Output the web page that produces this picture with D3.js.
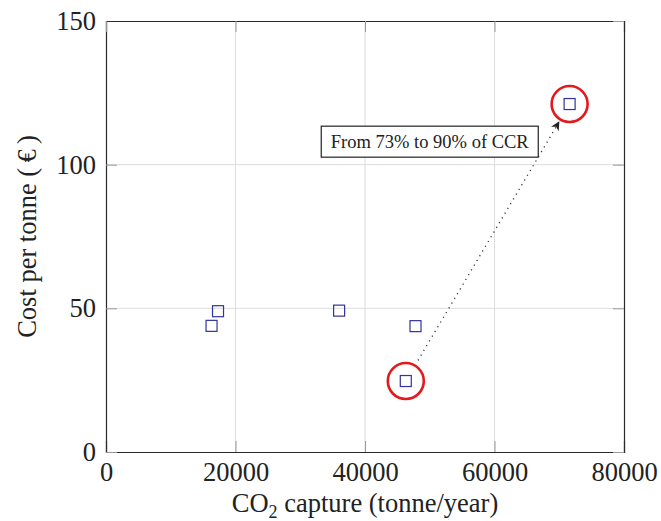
<!DOCTYPE html>
<html>
<head>
<meta charset="utf-8">
<script src="https://cdn.jsdelivr.net/npm/d3@7"></script>
<style>
  body { margin: 0; background: #fff; }
  svg text { font-family: "Liberation Serif", "Times New Roman", serif; fill: #222; }
</style>
</head>
<body>
<div id="chart"></div>
<script>
// data
const captureValues = [16300, 17300, 36000, 47800, 46300, 71600];
const costValues = [43.9, 49.0, 49.2, 43.8, 24.7, 121.1];
const highlighted = [4, 5];            // points circled in red
const xTicks = [0, 20000, 40000, 60000, 80000];
const yTicks = [0, 50, 100, 150];
const noteText = 'From 73% to 90% of CCR';
const notePos = [50000, 108];

const width = 661, height = 521;
const margin = { top: 21, right: 37, bottom: 69, left: 106 };

const svg = d3.select('#chart').append('svg')
  .attr('width', width)
  .attr('height', height);

const x = d3.scaleLinear().domain([0, 80000]).range([margin.left, width - margin.right]);
const y = d3.scaleLinear().domain([0, 150]).range([height - margin.bottom, margin.top]);

// grid
svg.append('g').selectAll('line')
  .data(xTicks.slice(1, -1))
  .join('line')
  .attr('x1', d => x(d)).attr('x2', d => x(d))
  .attr('y1', y(0)).attr('y2', y(150))
  .attr('stroke', '#dcdcdc').attr('stroke-width', 1);

svg.append('g').selectAll('line')
  .data(yTicks.slice(1, -1))
  .join('line')
  .attr('x1', x(0)).attr('x2', x(80000))
  .attr('y1', d => y(d)).attr('y2', d => y(d))
  .attr('stroke', '#dcdcdc').attr('stroke-width', 1);

// axes, ticks pointing inward on all four sides
const tickLen = 11;
const fmt = d3.format('d');

const xAxis = svg.append('g')
  .attr('transform', `translate(0,${y(0)})`)
  .call(d3.axisBottom(x).tickValues(xTicks).tickFormat(fmt).tickSize(-tickLen).tickPadding(10));
const yAxis = svg.append('g')
  .attr('transform', `translate(${x(0)},0)`)
  .call(d3.axisLeft(y).tickValues(yTicks).tickFormat(fmt).tickSize(-tickLen).tickPadding(10));
const xTop = svg.append('g')
  .attr('transform', `translate(0,${y(150)})`)
  .call(d3.axisTop(x).tickValues(xTicks).tickFormat('').tickSize(-tickLen));
const yRight = svg.append('g')
  .attr('transform', `translate(${x(80000)},0)`)
  .call(d3.axisRight(y).tickValues(yTicks).tickFormat('').tickSize(-tickLen));

[xAxis, yAxis, xTop, yRight].forEach(a => {
  a.select('.domain').attr('stroke', '#2a2a2a').attr('stroke-width', 1.2);
  a.selectAll('.tick line').attr('stroke', '#999');
  a.selectAll('.tick text')
    .attr('font-family', '"Liberation Serif", "Times New Roman", serif')
    .attr('font-size', 26.5)
    .attr('fill', '#222');
});

// axis labels
const xLabel = svg.append('text')
  .attr('x', (x(0) + x(80000)) / 2)
  .attr('y', 512)
  .attr('text-anchor', 'middle')
  .attr('font-size', 26.5);
xLabel.append('tspan').text('CO');
xLabel.append('tspan').attr('font-size', 18).attr('dy', 6).text('2');
xLabel.append('tspan').attr('dy', -6).text(' capture (tonne/year)');

svg.append('text')
  .attr('transform', `translate(36,${(y(0) + y(150)) / 2}) rotate(-90)`)
  .attr('text-anchor', 'middle')
  .attr('font-size', 26.5)
  .text('Cost per tonne (\u2009€\u2009)');

// arrow from the circled lower point to the circled upper point
const defs = svg.append('defs');
defs.append('marker')
  .attr('id', 'head')
  .attr('viewBox', '0 0 10 10')
  .attr('refX', 9).attr('refY', 5)
  .attr('markerWidth', 9).attr('markerHeight', 9)
  .attr('markerUnits', 'userSpaceOnUse')
  .attr('orient', 'auto')
  .append('path')
  .attr('d', 'M0,0 L10,5 L0,10 L3,5 Z')
  .attr('fill', '#222');

const [a, b] = highlighted;
const p1 = [x(captureValues[a]), y(costValues[a])];
const p2 = [x(captureValues[b]), y(costValues[b])];
const dx = p2[0] - p1[0], dy = p2[1] - p1[1];
const len = Math.hypot(dx, dy);
const ux = dx / len, uy = dy / len;

svg.append('line')
  .attr('x1', p1[0] + ux * 24).attr('y1', p1[1] + uy * 24)
  .attr('x2', p2[0] - ux * 21).attr('y2', p2[1] - uy * 21)
  .attr('stroke', '#333')
  .attr('stroke-width', 1.3)
  .attr('stroke-dasharray', '1.2 4.3')
  .attr('marker-end', 'url(#head)');

// points
svg.append('g').selectAll('rect')
  .data(captureValues.map((c, i) => [c, costValues[i]]))
  .join('rect')
  .attr('x', d => x(d[0]) - 5.5)
  .attr('y', d => y(d[1]) - 5.5)
  .attr('width', 11).attr('height', 11)
  .attr('fill', 'none')
  .attr('stroke', '#33339c')
  .attr('stroke-width', 1.2);

// red circles
svg.append('g').selectAll('circle')
  .data(highlighted)
  .join('circle')
  .attr('cx', i => x(captureValues[i]))
  .attr('cy', i => y(costValues[i]))
  .attr('r', 18)
  .attr('fill', 'none')
  .attr('stroke', '#e3191c')
  .attr('stroke-width', 2.6);

// annotation box
const note = svg.append('g')
  .attr('transform', `translate(${x(notePos[0])},${y(notePos[1])})`);
note.append('rect')
  .attr('x', -108.5).attr('y', -15.5)
  .attr('width', 217).attr('height', 31)
  .attr('fill', '#fff')
  .attr('stroke', '#222')
  .attr('stroke-width', 1.2);
note.append('text')
  .attr('text-anchor', 'middle')
  .attr('dy', '0.35em')
  .attr('font-size', 18.5)
  .text(noteText);
</script>
</body>
</html>
